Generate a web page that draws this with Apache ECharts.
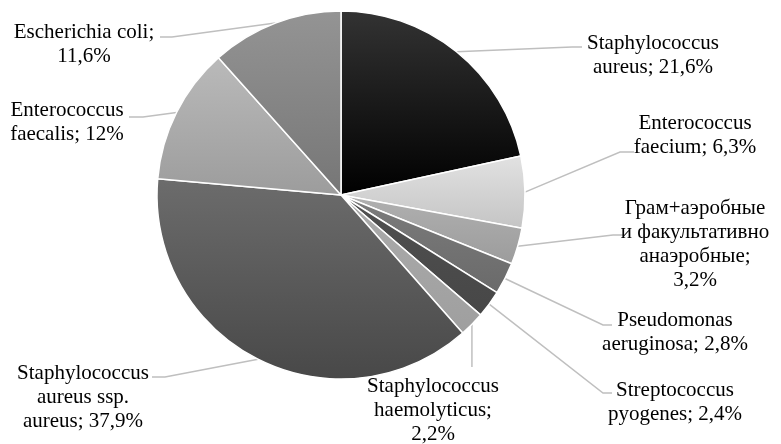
<!DOCTYPE html>
<html>
<head>
<meta charset="utf-8">
<script src="https://cdn.jsdelivr.net/npm/echarts@6/dist/echarts.min.js"></script>
<style>html,body{margin:0;padding:0;background:#fff}#c{width:781px;height:444px}</style>
</head>
<body>
<div id="c"></div>
<script>
// ---- data ----
const names = [
  'Staphylococcus\naureus',
  'Enterococcus\nfaecium',
  'Грам+аэробные\nи факультативно\nанаэробные',
  'Pseudomonas\naeruginosa',
  'Streptococcus\npyogenes',
  'Staphylococcus\nhaemolyticus',
  'Staphylococcus\naureus ssp.\naureus',
  'Enterococcus\nfaecalis',
  'Escherichia coli'
];
const values = [21.6, 6.3, 3.2, 2.8, 2.4, 2.2, 37.9, 12, 11.6];
const valueOnNewLine = [false, false, true, false, false, true, false, false, true];

// ---- styling / layout ----
const sliceColors = [
  ['#333333', '#000000'],
  ['#e2e2e2', '#c4c4c4'],
  ['#b0b0b0', '#9c9c9c'],
  ['#7c7c7c', '#6a6a6a'],
  ['#505050', '#474747'],
  ['#ababab', '#9f9f9f'],
  ['#6c6c6c', '#484848'],
  ['#bababa', '#9c9c9c'],
  ['#949494', '#767676']
];
const labelPos = [
  [653, 55], [695, 135], [695, 244], [675, 332], [675, 402],
  [433, 410], [83, 397], [67, 122], [84, 44]
];
const linePts = [
  [[572, 47], [582, 47]],
  [[620, 152], [634, 152]],
  [[613, 235], [623, 235]],
  [[603, 325], [612, 325]],
  [[603, 393], [612, 393]],
  null,
  [[165, 377], [152, 377]],
  [[143, 117], [129, 117]],
  [[172, 37], [160, 37]]
];
const CX = 341, CY = 195, R = 184;
const FONT = 'Liberation Serif';

const total = values.reduce((a, b) => a + b, 0);
function edgePoint(i) {
  let before = 0;
  for (let k = 0; k < i; k++) before += values[k];
  const a = (before + values[i] / 2) / total * 2 * Math.PI;
  return [CX + R * Math.sin(a), CY - R * Math.cos(a)];
}

const chart = echarts.init(document.getElementById('c'), null, {renderer: 'canvas'});
chart.setOption({
  animation: false,
  backgroundColor: '#fff',
  textStyle: {fontFamily: FONT},
  series: [{
    type: 'pie',
    center: [CX, CY],
    radius: R,
    startAngle: 90,
    clockwise: true,
    avoidLabelOverlap: false,
    data: values.map((v, i) => ({
      name: names[i],
      value: v,
      itemStyle: {
        color: new echarts.graphic.LinearGradient(0, 0, 0, 1, [
          {offset: 0, color: sliceColors[i][0]},
          {offset: 1, color: sliceColors[i][1]}
        ])
      }
    })),
    itemStyle: {borderColor: '#fff', borderWidth: 1.5},
    label: {
      show: true,
      position: 'outside',
      fontFamily: FONT,
      fontSize: 21,
      lineHeight: 24,
      color: '#000',
      align: 'center',
      formatter: p => p.name + ';' + (valueOnNewLine[p.dataIndex] ? '\n' : ' ') +
        String(p.value).replace('.', ',') + '%'
    },
    labelLine: {show: true, lineStyle: {color: '#bfbfbf', width: 1.5}},
    labelLayout: function (params) {
      const i = params.dataIndex;
      const s = edgePoint(i);
      let pts;
      if (linePts[i]) pts = [s, linePts[i][0], linePts[i][1]];
      else pts = [s, [s[0], 367], [s[0], 367]];
      return {
        x: labelPos[i][0],
        y: labelPos[i][1],
        align: 'center',
        verticalAlign: 'middle',
        labelLinePoints: pts
      };
    },
    emphasis: {disabled: true}
  }]
});
</script>
</body>
</html>
